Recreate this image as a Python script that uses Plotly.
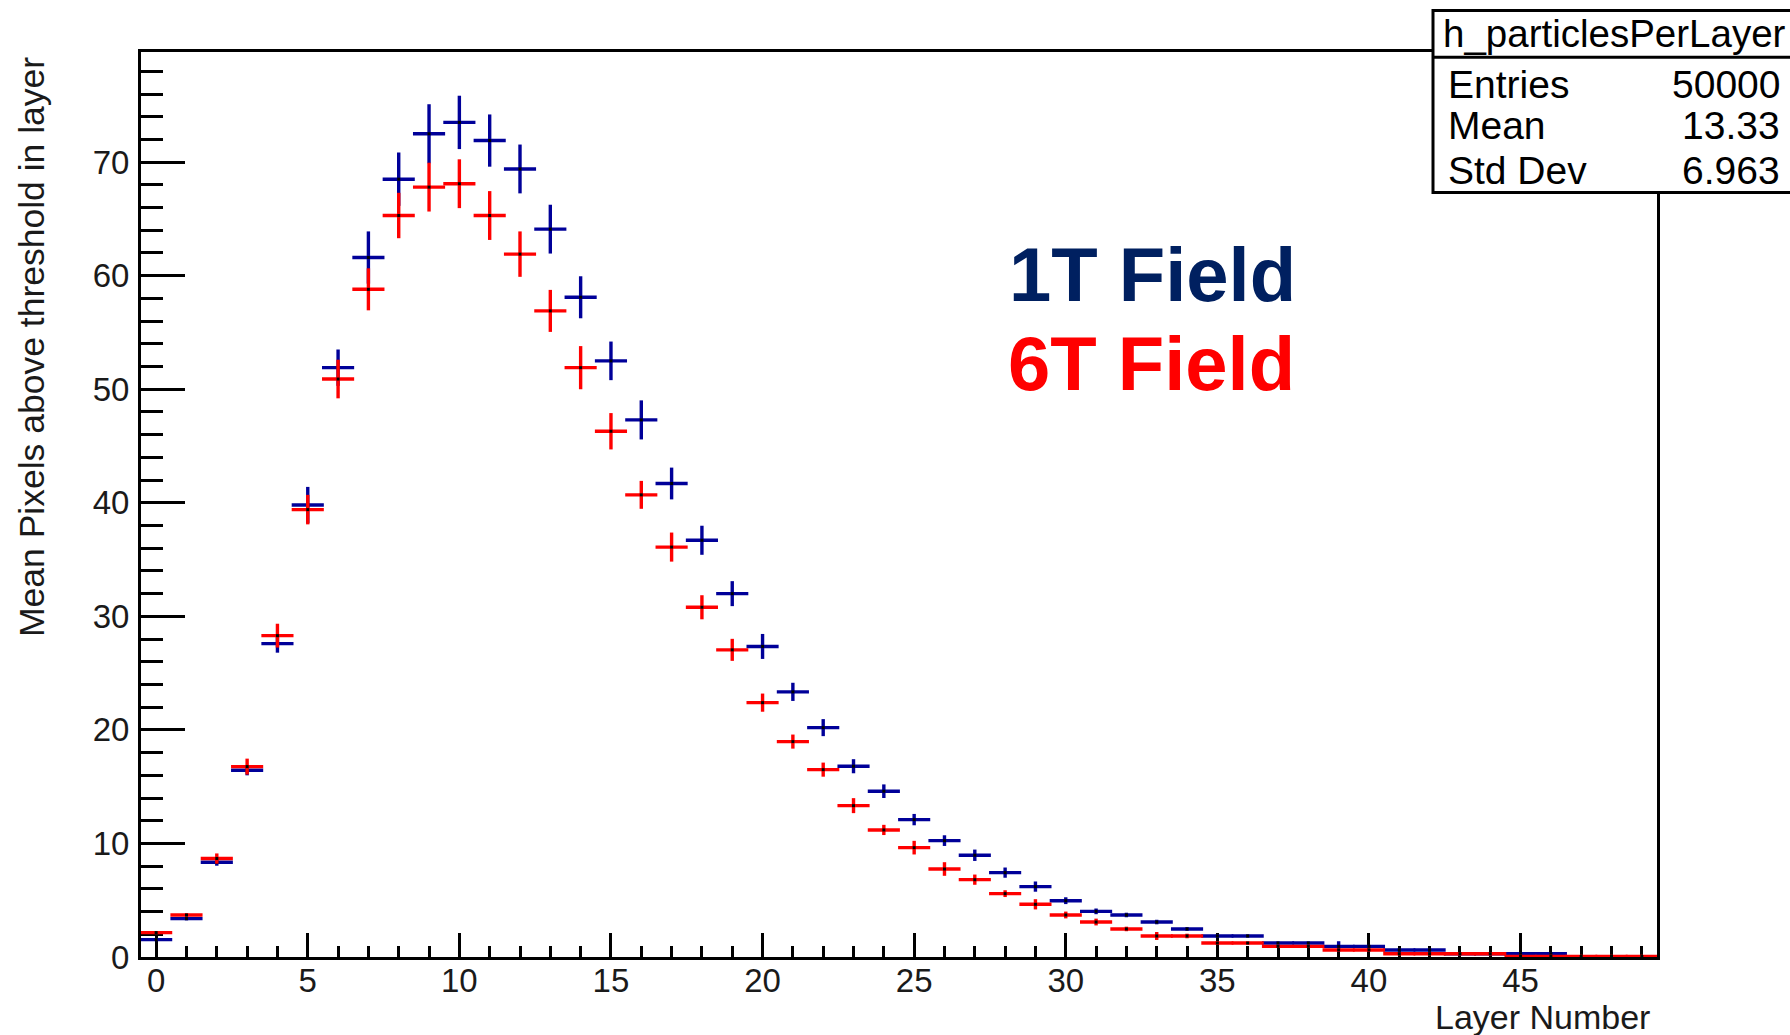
import plotly.graph_objects as go

# ---------------- data ----------------
layers = list(range(50))

field_1T = [1.53, 3.38, 8.34, 16.45, 27.6, 39.8, 51.9, 61.6, 68.5, 72.5,
            73.5, 71.9, 69.4, 64.1, 58.1, 52.5, 47.3, 41.7, 36.7, 32.0,
            27.35, 23.35, 20.2, 16.8, 14.6, 12.1, 10.25, 8.96, 7.43, 6.2,
            4.96, 4.02, 3.70, 3.08, 2.47, 1.85, 1.85, 1.23, 1.23, 0.94,
            0.94, 0.62, 0.62, 0.29, 0.29, 0.29, 0.29, 0.03, 0.03, 0.03]
field_1T_err = [0.12, 0.15, 0.3, 0.45, 0.8, 1.6, 1.6, 2.3, 2.35, 2.6,
                2.35, 2.3, 2.15, 2.15, 1.85, 1.7, 1.72, 1.4, 1.28, 1.1,
                1.1, 0.8, 0.75, 0.62, 0.6, 0.5, 0.47, 0.5, 0.45, 0.45,
                0.3, 0.25, 0.2, 0.2, 0.15, 0.12, 0.12, 0.12, 0.12, 0.45,
                0.1, 0.1, 0.1, 0.1, 0.1, 0.1, 0.1, 0.05, 0.05, 0.05]

field_6T = [2.15, 3.70, 8.67, 16.77, 28.3, 39.4, 50.9, 58.8, 65.3, 67.8,
            68.1, 65.3, 61.9, 56.9, 51.9, 46.3, 40.7, 36.1, 30.8, 27.05,
            22.4, 18.97, 16.5, 13.33, 11.19, 9.63, 7.75, 6.81, 5.58, 4.64,
            3.70, 3.08, 2.47, 1.85, 1.85, 1.23, 1.23, 0.94, 0.94, 0.62,
            0.62, 0.29, 0.29, 0.29, 0.29, 0.05, 0.05, 0.05, 0.05, 0.05]
field_6T_err = [0.12, 0.15, 0.45, 0.7, 1.05, 1.3, 1.7, 1.85, 2.0, 2.15,
                2.15, 2.15, 2.0, 1.85, 1.9, 1.6, 1.23, 1.28, 1.06, 0.97,
                0.8, 0.62, 0.62, 0.66, 0.45, 0.6, 0.6, 0.45, 0.3, 0.45,
                0.3, 0.3, 0.2, 0.35, 0.2, 0.15, 0.12, 0.12, 0.12, 0.1,
                0.1, 0.1, 0.1, 0.1, 0.1, 0.05, 0.05, 0.05, 0.05, 0.05]

x_tick_vals = [0, 5, 10, 15, 20, 25, 30, 35, 40, 45]
y_tick_vals = [0, 10, 20, 30, 40, 50, 60, 70]

stats_title = "h_particlesPerLayer"
stats_labels = ["Entries", "Mean", "Std Dev"]
stats_values = ["50000", "13.33", "6.963"]

# ---------------- layout helpers ----------------
W, H = 1790, 1035
PL, PR, PT, PB = 141, 1657, 52, 957


def px(x):
    return (x - PL) / (PR - PL)


def py(y):
    return (PB - y) / (PB - PT)


BLUE = "#000099"
RED = "#ff0000"
FONT = "Liberation Sans, Arial, sans-serif"

fig = go.Figure()

for vals, errs, col in [(field_1T, field_1T_err, BLUE), (field_6T, field_6T_err, RED)]:
    fig.add_trace(go.Scatter(
        x=layers, y=vals, mode="markers",
        marker=dict(symbol="square", size=3, color="black", line=dict(width=0)),
        error_x=dict(type="constant", value=0.53, width=0, thickness=3.4, color=col),
        error_y=dict(type="data", array=errs, symmetric=True, width=0, thickness=3.4, color=col),
        showlegend=False, hoverinfo="skip",
    ))

axis_common = dict(
    showline=True, linewidth=3, linecolor="black", mirror=True,
    ticks="inside", tickwidth=3, tickcolor="black",
    showgrid=False, zeroline=False, layer="below traces",
    tickfont=dict(family=FONT, size=33, color="#1a1a1a"),
)

fig.update_xaxes(
    range=[-0.5, 49.5], tickvals=x_tick_vals, ticklen=24,
    minor=dict(dtick=1, tick0=0, ticklen=11, tickwidth=3, tickcolor="black", ticks="inside", showgrid=False),
    ticklabelstandoff=-8,
    **axis_common,
)
fig.update_yaxes(
    range=[0, 79.7], tickvals=y_tick_vals, ticklen=44,
    minor=dict(dtick=2, tick0=0, ticklen=22, tickwidth=3, tickcolor="black", ticks="inside", showgrid=False),
    ticklabelstandoff=2,
    **axis_common,
)

annotations = [
    dict(text="Layer Number", x=px(1652), y=py(1017), xanchor="right", yanchor="middle",
         font=dict(family=FONT, size=34, color="#1a1a1a")),
    dict(text="Mean Pixels above threshold in layer", x=px(32), y=py(55), xanchor="center", yanchor="top",
         textangle=-90, font=dict(family=FONT, size=35.5, color="#1a1a1a")),
    dict(text="<b>1T Field</b>", x=px(1152), y=py(274), xanchor="center", yanchor="middle",
         font=dict(family=FONT, size=76, color="#002060")),
    dict(text="<b>6T Field</b>", x=px(1151), y=py(363), xanchor="center", yanchor="middle",
         font=dict(family=FONT, size=76, color="#ff0000")),
    dict(text=stats_title, x=px(1614), y=py(33), xanchor="center", yanchor="middle",
         font=dict(family=FONT, size=38.5, color="black")),
]
row_y = [85, 126, 171]
for lab, val, ry in zip(stats_labels, stats_values, row_y):
    annotations.append(dict(text=lab, x=px(1446), y=py(ry), xanchor="left", yanchor="middle",
                            font=dict(family=FONT, size=39, color="black")))
    annotations.append(dict(text=val, x=px(1782), y=py(ry), xanchor="right", yanchor="middle",
                            font=dict(family=FONT, size=39, color="black")))
for a in annotations:
    a.update(xref="paper", yref="paper", showarrow=False)

shapes = [
    dict(type="rect", xref="paper", yref="paper", x0=px(1433), x1=px(1805), y0=py(192.5), y1=py(10.5),
         line=dict(color="black", width=3), fillcolor="white", layer="above"),
    dict(type="line", xref="paper", yref="paper", x0=px(1433), x1=px(1805), y0=py(57.3), y1=py(57.3),
         line=dict(color="black", width=3), layer="above"),
]

fig.update_layout(
    width=W, height=H,
    margin=dict(l=PL, r=W - PR, t=PT, b=H - PB, pad=0),
    paper_bgcolor="white", plot_bgcolor="white",
    annotations=annotations, shapes=shapes,
    font=dict(family=FONT),
)

fig.write_html("out.html")
